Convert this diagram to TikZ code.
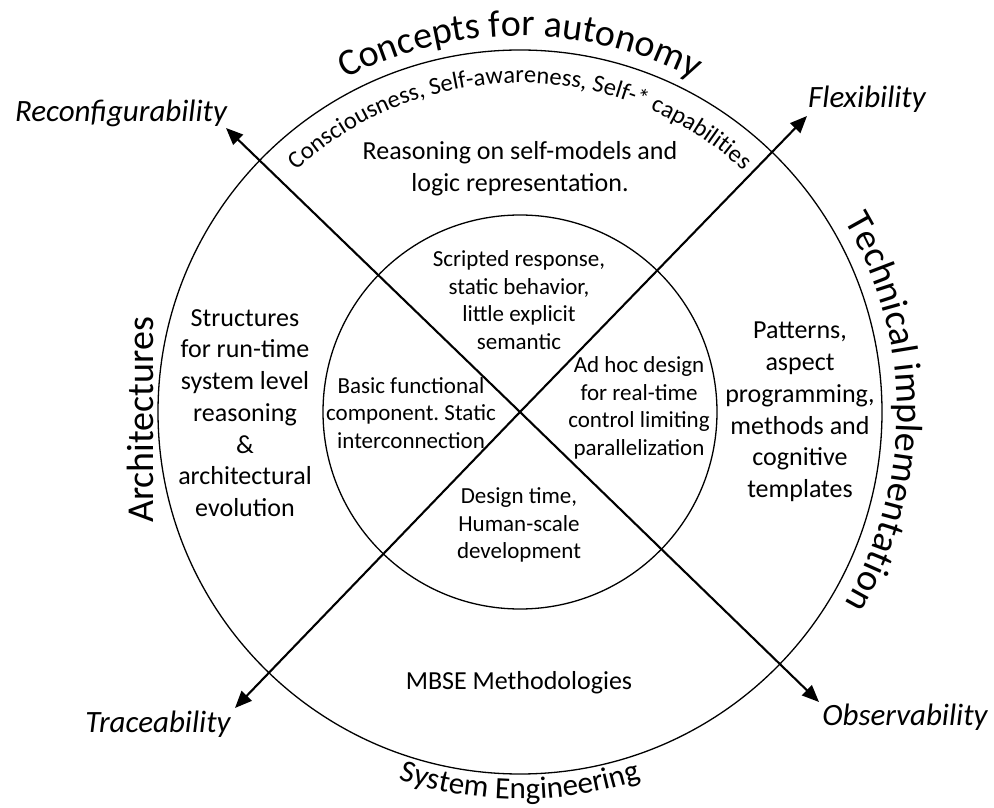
\documentclass[tikz,border=0pt]{standalone}
\usepackage{fontspec}
\setmainfont{Carlito}
\frenchspacing
\usetikzlibrary{arrows.meta,decorations.text}
\tikzset{
  ring/.style={draw=black,line width=1.3pt},
  axisarrow/.style={draw=black,line width=2.1pt,-{Triangle[length=17pt,width=14pt]}},
  axislabel/.style={font=\fontsize{31}{36}\selectfont\itshape,anchor=base,inner sep=0pt},
  bodytext/.style={align=center,font=\fontsize{26}{31.7}\selectfont,inner sep=0pt},
  innertext/.style={align=center,font=\fontsize{23}{27.5}\selectfont,inner sep=0pt},
}
\begin{document}
\begin{tikzpicture}[x=1pt,y=1pt]
\useasboundingbox (0,0) rectangle (994,807);
\coordinate (c) at (520,395);
\draw[ring] (c) circle (362);
\draw[ring] (c) circle (197);
% arrow tips
\coordinate (tR) at (226,679);
\coordinate (tF) at (807,691);
\coordinate (tT) at (235,99);
\coordinate (tO) at (819,105);
\draw[axisarrow] (c) -- (tR);
\draw[axisarrow] (c) -- (tF);
\draw[axisarrow] (c) -- (tT);
\draw[axisarrow] (c) -- (tO);
% axis labels
\node[axislabel] (lR) at (121,685) {Reconfigurability};
\node[axislabel] (lF) at (867,699) {Flexibility};
\node[axislabel] (lT) at (158,75) {Traceability};
\node[axislabel] (lO) at (905,82) {Observability};
% curved titles
\path[decorate,decoration={text along path,text align=center,
  text={|\fontsize{38}{40}\selectfont|Concepts for autonomy}}]
  ([shift={(150:376)}]c) arc (150:30:376);
\path[decorate,decoration={text along path,text align=center,
  text={|\fontsize{24.5}{28}\selectfont|Consciousness, Self-awareness, Self-* capabilities}}]
  ([shift={(150:329)}]c) arc (150:30:329);
\path[decorate,decoration={text along path,text align=center,
  text={|\fontsize{38}{40}\selectfont|Technical implementation}}]
  ([shift={(60:377)}]c) arc (60:-60:377);
\path[decorate,decoration={text along path,text align=center,
  text={|\fontsize{31}{34}\selectfont|System Engineering}}]
  ([shift={(220:387)}]c) arc (220:320:387);
\node[rotate=90,anchor=base,inner sep=0pt,font=\fontsize{38}{40}\selectfont] (arch) at (153,387) {Architectures};
% outer ring texts
\node[bodytext] (reason) at (520,638) {Reasoning on self-models and\\logic representation.};
\node[bodytext] (struct) at (245,394) {Structures\\for run-time\\system level\\reasoning\\\&\\architectural\\evolution};
\node[bodytext] (patterns) at (800,395) {Patterns,\\aspect\\programming,\\methods and\\cognitive\\templates};
\node[bodytext] (mbse) at (519,124) {MBSE Methodologies};
% inner texts
\node[innertext] (scripted) at (519,507) {Scripted response,\\static behavior,\\little explicit\\semantic};
\node[innertext] (basic) at (411,394) {Basic functional\\component. Static\\interconnection};
\node[innertext] (adhoc) at (639,399) {Ad hoc design\\for real-time\\control limiting\\parallelization};
\node[innertext] (design) at (519,282) {Design time,\\Human-scale\\development};
\end{tikzpicture}
\end{document}
